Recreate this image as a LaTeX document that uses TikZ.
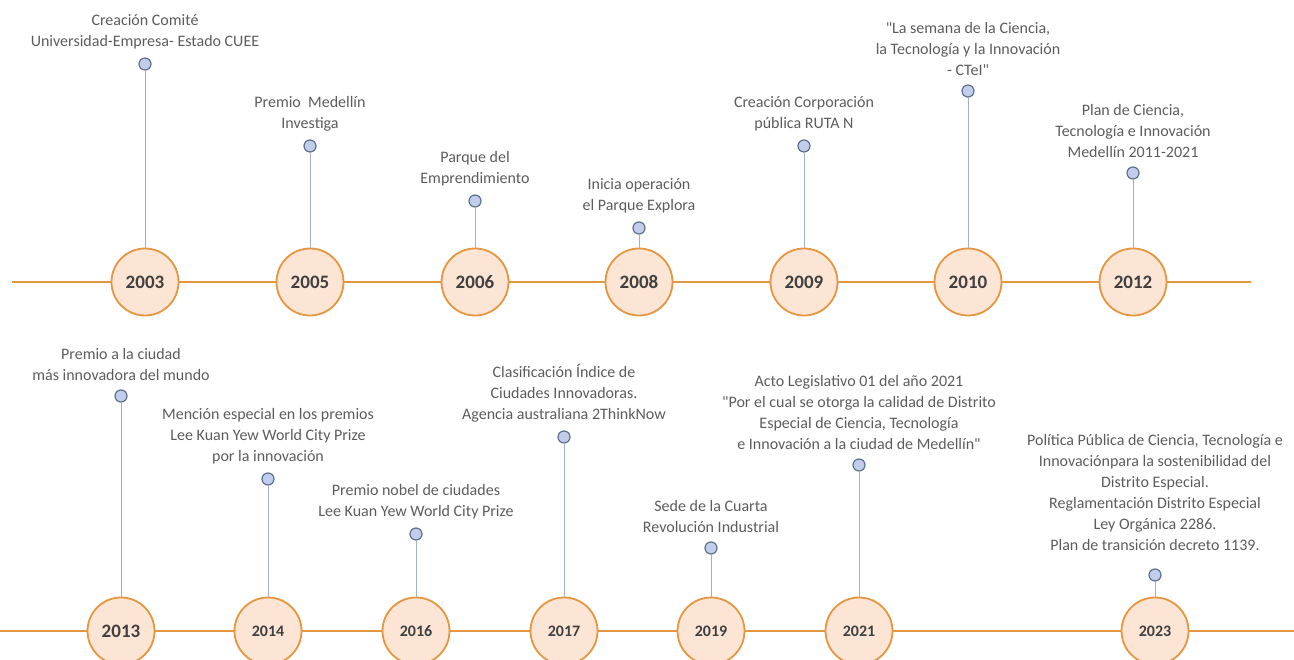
\documentclass[tikz,border=0pt]{standalone}
\usepackage{fontspec}
\setmainfont{Carlito}
\usepackage{tikz}
\usetikzlibrary{positioning}
\definecolor{tlc}{RGB}{228,150,64}
\definecolor{yrfill}{RGB}{252,229,212}
\definecolor{dotfill}{RGB}{192,206,236}
\definecolor{dotdraw}{RGB}{96,112,142}
\definecolor{stemc}{RGB}{160,176,204}
\definecolor{txtc}{RGB}{92,92,92}
\tikzset{
  yrbig/.style={circle,draw=tlc,line width=1.8pt,fill=yrfill,minimum size=67pt,inner sep=0pt,
    font=\fontsize{19}{19}\selectfont\bfseries,text=black!75},
  yrsmall/.style={yrbig,font=\fontsize{16}{16}\selectfont\bfseries},
  evdot/.style={circle,draw=dotdraw,fill=dotfill,line width=1.2pt,minimum size=12pt,inner sep=0pt},
  evlab/.style={align=center,font=\fontsize{16}{21}\selectfont,text=txtc},
  tline/.style={draw=tlc,line width=2.6pt},
  stem/.style={draw=stemc,line width=1pt}
}
\begin{document}
\begin{tikzpicture}[x=1pt,y=-1pt]
  \useasboundingbox (0,0) rectangle (1294,660);
  % timelines
  \coordinate (topL) at (12,282);
  \coordinate (topR) at (1251,282);
  \coordinate (botL) at (0,631);
  \coordinate (botR) at (1294,631);
  \draw[tline] (topL) -- (topR);
  \draw[tline] (botL) -- (botR);
  % upper row
  \foreach \yr/\x/\d/\txt in {
    2003/145/64/{Creación Comité\\Universidad-Empresa- Estado CUEE},
    2005/310/146/{Premio\ \ Medellín\\Investiga},
    2006/475/201/{Parque del\\Emprendimiento},
    2008/639/228/{Inicia operación\\el Parque Explora},
    2009/804/146/{Creación Corporación\\pública RUTA N},
    2010/968/91/{\textquotedbl La semana de la Ciencia,\\la Tecnología y la Innovación\\- CTeI\textquotedbl},
    2012/1133/173/{Plan de Ciencia,\\Tecnología e Innovación\\Medellín 2011-2021}} {
    \node[yrbig] (y\yr) at (\x,282) {\yr};
    \node[evdot] (e\yr) at (\x,\d) {};
    \draw[stem] (e\yr) -- (y\yr);
    \node[evlab,above=5pt of e\yr] (t\yr) {\txt};
  }
  % lower row
  \foreach \yr/\x/\d/\st/\gap/\txt in {
    2013/121/396/yrbig/5/{Premio a la ciudad\\más innovadora del mundo},
    2014/268/479/yrsmall/5/{Mención especial en los premios\\Lee Kuan Yew World City Prize\\por la innovación},
    2016/416/534/yrsmall/5/{Premio nobel de ciudades\\Lee Kuan Yew World City Prize},
    2017/564/437/yrsmall/5/{Clasificación Índice de\\Ciudades Innovadoras.\\Agencia australiana 2ThinkNow},
    2019/711/548/yrsmall/5/{Sede de la Cuarta\\Revolución Industrial},
    2021/859/465/yrsmall/5/{Acto Legislativo 01 del año 2021\\\textquotedbl Por el cual se otorga la calidad de Distrito\\Especial de Ciencia, Tecnología\\e Innovación a la ciudad de Medellín\textquotedbl},
    2023/1155/575/yrsmall/14/{Política Pública de Ciencia, Tecnología e\\Innovaciónpara la sostenibilidad del\\Distrito Especial.\\Reglamentación Distrito Especial\\Ley Orgánica 2286.\\Plan de transición decreto 1139.}} {
    \node[\st] (y\yr) at (\x,631) {\yr};
    \node[evdot] (e\yr) at (\x,\d) {};
    \draw[stem] (e\yr) -- (y\yr);
    \node[evlab,above=\gap pt of e\yr] (t\yr) {\txt};
  }
\end{tikzpicture}
\end{document}
